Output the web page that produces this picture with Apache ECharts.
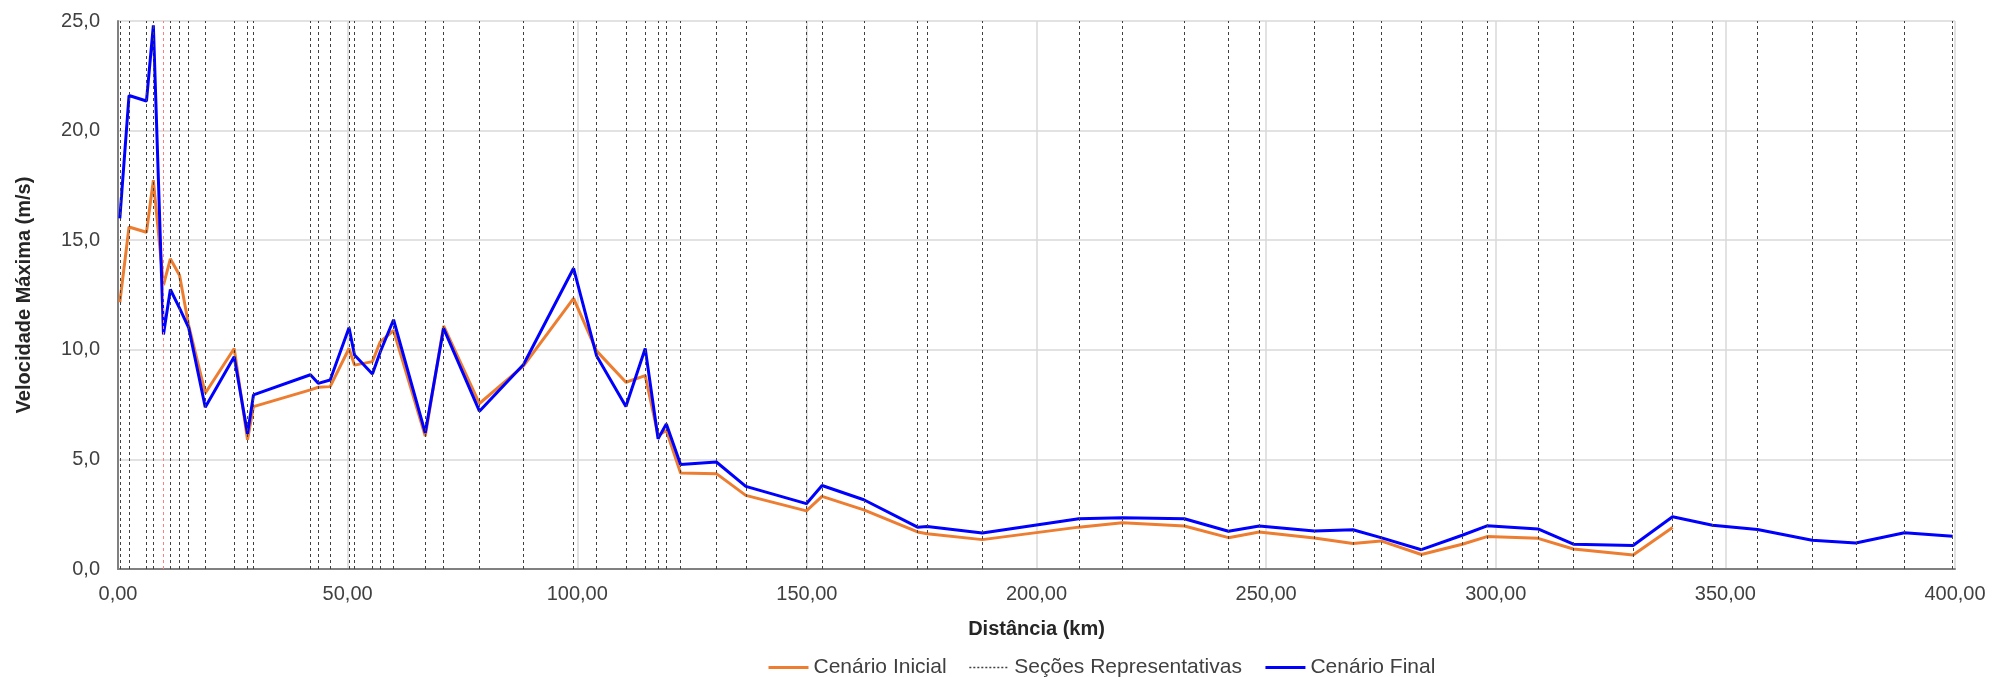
<!DOCTYPE html>
<html lang="pt-BR">
<head>
<meta charset="utf-8">
<title>Velocidade Máxima ao longo do trecho</title>
<script src="https://cdn.jsdelivr.net/npm/echarts@6/dist/echarts.min.js"></script>
<style>
  html, body { margin: 0; padding: 0; background: #ffffff; overflow: hidden; }
  #chart { width: 2011px; height: 677px; }
</style>
</head>
<body>
<div id="chart"></div>
<script>
// Distância de cada seção ao longo do trecho (km)
const distancia = [
  0.4, 2.4, 6.2, 7.7, 9.9, 11.4, 13.4, 15.4, 19.0, 25.3,
  28.2, 29.5, 41.9, 43.6, 46.2, 50.3, 51.5, 55.4, 57.1, 60.0,
  66.9, 70.9, 78.7, 88.3, 99.2, 104.2, 110.6, 114.8, 117.6, 119.4,
  122.5, 130.3, 136.7, 149.9, 153.3, 162.4, 174.1, 176.2, 188.2, 209.2,
  218.7, 232.2, 241.8, 248.5, 260.5, 268.9, 275.0, 283.8, 292.7, 298.1,
  309.2, 316.9, 329.9, 338.5, 347.2, 357.0, 368.9, 378.4, 389.0, 399.5
];

// Velocidade máxima (m/s) — cenário inicial (sem valores após 338,5 km)
const cenarioInicial = [
  12.17, 15.6, 15.36, 17.74, 12.95, 14.15, 13.4, 11.1, 8.02, 10.06,
  5.9, 7.41, 8.17, 8.29, 8.32, 10.06, 9.3, 9.46, 10.36, 10.88,
  6.06, 11.09, 7.55, 9.27, 12.35, 9.95, 8.52, 8.82, 6.09, 6.32,
  4.38, 4.35, 3.36, 2.65, 3.31, 2.7, 1.69, 1.61, 1.34, 1.91,
  2.11, 1.96, 1.43, 1.69, 1.41, 1.16, 1.28, 0.66, 1.13, 1.48,
  1.40, 0.91, 0.64, 1.89, null, null, null, null, null, null
];

// Velocidade máxima (m/s) — cenário final
const cenarioFinal = [
  16.0, 21.6, 21.35, 24.8, 10.7, 12.75, 11.9, 11.0, 7.38, 9.68,
  6.17, 7.94, 8.86, 8.47, 8.62, 11.01, 9.76, 8.9, 9.9, 11.37,
  6.21, 10.98, 7.2, 9.33, 13.72, 9.73, 7.41, 10.06, 5.94, 6.62,
  4.77, 4.88, 3.77, 2.98, 3.81, 3.16, 1.91, 1.94, 1.64, 2.29,
  2.34, 2.29, 1.72, 1.96, 1.73, 1.79, 1.43, 0.88, 1.54, 1.97,
  1.83, 1.13, 1.07, 2.38, 2.0, 1.8, 1.31, 1.19, 1.65, 1.49
];

// Seção em destaque (linha vermelha) e demais seções representativas
const secaoDestaque = 9.9;
const secoes = distancia.filter(d => d !== secaoDestaque);

// Eixos
const eixoX = { min: 0, max: 400, intervalo: 50 };
const eixoY = { min: 0, max: 25, intervalo: 5 };

const pares = (ys) => distancia.map((d, i) => [d, ys[i]]);
const virgula = (v, casas) => v.toFixed(casas).replace('.', ',');

const FONTE = '"Liberation Sans", Arial, sans-serif';
const COR_TEXTO = '#404040';

const chart = echarts.init(document.getElementById('chart'), null, { renderer: 'canvas' });

chart.setOption({
  animation: false,
  backgroundColor: '#ffffff',
  textStyle: { fontFamily: FONTE },
  grid: { left: 118, right: 56, top: 21, bottom: 108, containLabel: false },
  legend: {
    left: 762,
    top: 652,
    itemWidth: 40,
    itemHeight: 14,
    itemGap: 22,
    itemStyle: { opacity: 0 },
    lineStyle: { width: 'inherit' },
    textStyle: { fontFamily: FONTE, fontSize: 21, color: COR_TEXTO },
    data: ['Cenário Inicial', 'Seções Representativas', 'Cenário Final']
  },
  xAxis: {
    type: 'value',
    min: eixoX.min,
    max: eixoX.max,
    interval: eixoX.intervalo,
    name: 'Distância (km)',
    nameLocation: 'middle',
    nameGap: 50,
    nameTextStyle: { fontFamily: FONTE, fontSize: 20, fontWeight: 'bold', color: '#262626' },
    axisLine: { show: true, onZero: false, lineStyle: { color: '#808080', width: 2 } },
    axisTick: { show: false },
    axisLabel: {
      margin: 15,
      fontFamily: FONTE, fontSize: 20, color: COR_TEXTO,
      formatter: v => virgula(v, 2)
    },
    splitLine: { show: true, lineStyle: { color: '#d9d9d9', width: 1.5 } }
  },
  yAxis: {
    type: 'value',
    min: eixoY.min,
    max: eixoY.max,
    interval: eixoY.intervalo,
    name: 'Velocidade Máxima (m/s)',
    nameLocation: 'middle',
    nameGap: 84,
    nameTextStyle: { fontFamily: FONTE, fontSize: 20, fontWeight: 'bold', color: '#262626' },
    axisLine: { show: true, lineStyle: { color: '#808080', width: 2 } },
    axisTick: { show: false },
    axisLabel: {
      margin: 18,
      fontFamily: FONTE, fontSize: 20, color: COR_TEXTO,
      formatter: v => virgula(v, 1)
    },
    splitLine: { show: true, lineStyle: { color: '#d9d9d9', width: 1.5 } }
  },
  series: [
    {
      name: 'Cenário Inicial',
      type: 'line',
      data: pares(cenarioInicial),
      symbol: 'none',
      connectNulls: false,
      lineStyle: { color: '#ed7d31', width: 3 },
      itemStyle: { color: '#ed7d31' },
      z: 3
    },
    {
      name: 'Seções Representativas',
      type: 'line',
      data: [],
      symbol: 'none',
      lineStyle: { color: '#404040', width: 1.5, type: [2, 2] },
      itemStyle: { color: '#404040' },
      markLine: {
        silent: true,
        symbol: ['none', 'none'],
        label: { show: false },
        lineStyle: { color: '#404040', width: 1, type: [3, 3] },
        data: secoes.map(d => ({ xAxis: d }))
          .concat([{ xAxis: secaoDestaque, lineStyle: { color: '#ff7f7f', width: 1, type: [3, 3] } }])
      },
      z: 2
    },
    {
      name: 'Cenário Final',
      type: 'line',
      data: pares(cenarioFinal),
      symbol: 'none',
      lineStyle: { color: '#0000ff', width: 3 },
      itemStyle: { color: '#0000ff' },
      z: 4
    }
  ]
});
</script>
</body>
</html>
